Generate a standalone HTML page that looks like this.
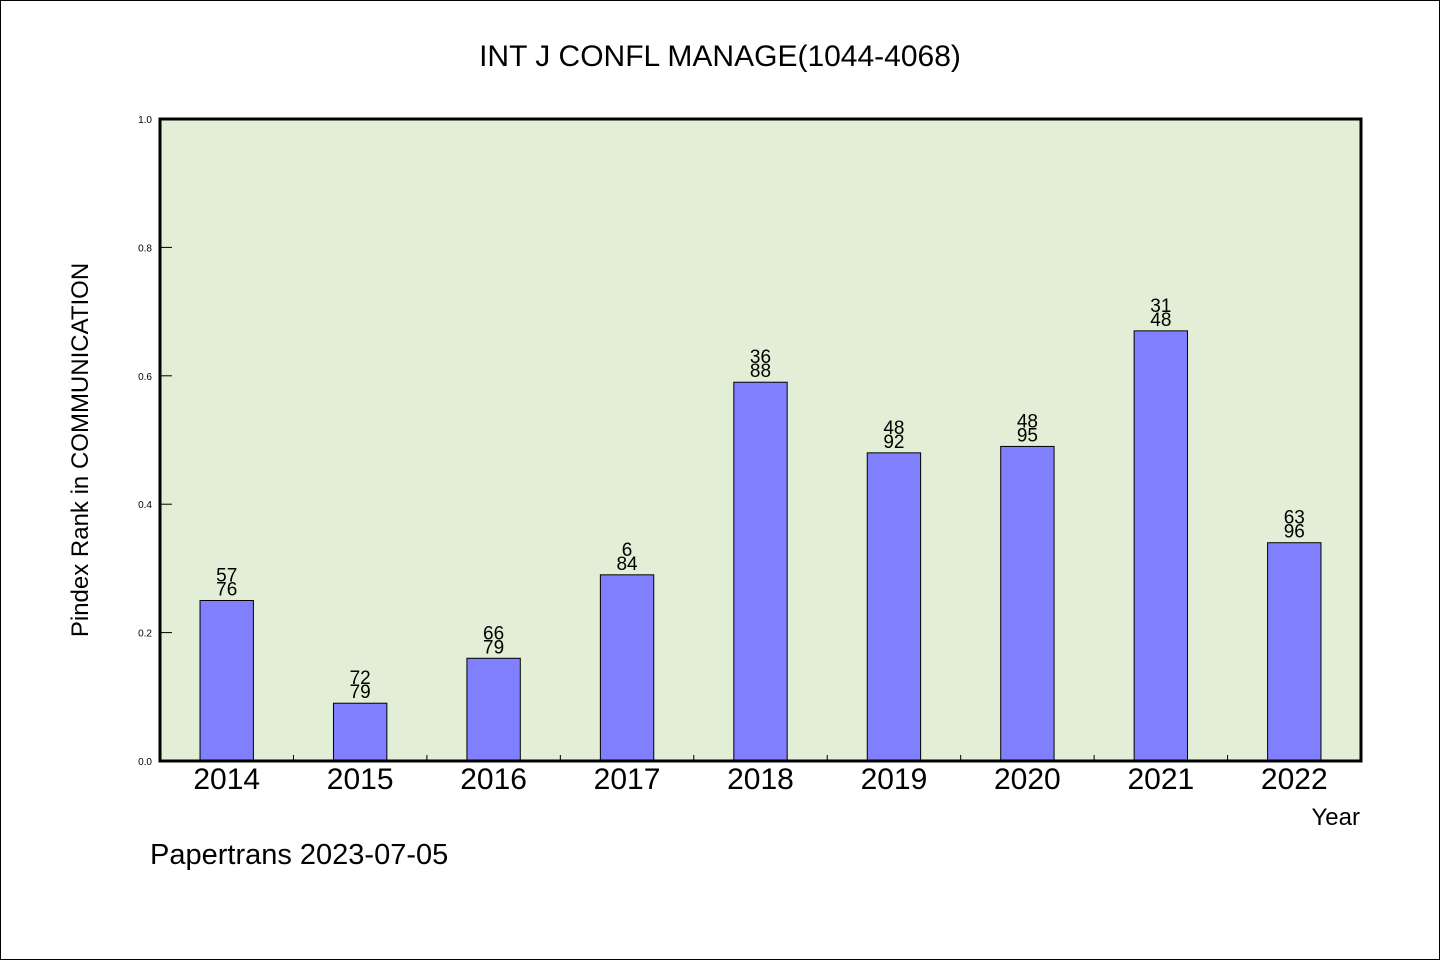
<!DOCTYPE html>
<html><head><meta charset="utf-8"><style>
body{margin:0;background:#fff}
svg text{font-family:"WenQuanYi Zen Hei","Liberation Sans",sans-serif;fill:#000}
</style></head><body>
<svg width="1440" height="960">
<rect x="0.5" y="0.5" width="1439" height="959" fill="#fff" stroke="#000"/>
<text x="720" y="66" font-size="30" text-anchor="middle">INT J CONFL MANAGE(1044-4068)</text>
<rect x="160" y="119" width="1201" height="642" fill="#e2efd6"/>
<g id="bars"></g>
<rect x="160" y="119" width="1201" height="642" fill="none" stroke="#000" stroke-width="3"/>
<g id="axes"></g>
<text transform="translate(88,450) rotate(-90)" font-size="24" text-anchor="middle">Pindex Rank in COMMUNICATION</text>
<text x="1360" y="825" font-size="24" text-anchor="end">Year</text>
<text x="150" y="864" font-size="29">Papertrans 2023-07-05</text>
</svg>
<script>
const categories=["2014","2015","2016","2017","2018","2019","2020","2021","2022"];
const values=[0.25,0.09,0.16,0.29,0.59,0.48,0.49,0.67,0.34];
const ranks=["57","72","66","6","36","48","48","31","63"];
const totals=["76","79","79","84","88","92","95","48","96"];
const yTicks=["0.0","0.2","0.4","0.6","0.8","1.0"];
const NS="http://www.w3.org/2000/svg";
const X0=160,X1=1361,Y0=761,Y1=119;
const step=(X1-X0)/categories.length;
const xc=i=>X0+step*(i+0.5);
const y=v=>Y0-(Y0-Y1)*v;
function mk(t,a,p){const e=document.createElementNS(NS,t);for(const k in a)e.setAttribute(k,a[k]);p.appendChild(e);return e;}
const bars=document.getElementById('bars'),axes=document.getElementById('axes');
categories.forEach((c,i)=>{
 const w=step*0.4;
 const r=mk('rect',{x:xc(i)-w/2,y:y(values[i]),width:w,height:Y0-y(values[i]),fill:'#8080ff',stroke:'#000','stroke-width':1},bars);
 
 
 const t1=mk('text',{x:xc(i),y:y(values[i])-19,'font-size':19,'text-anchor':'middle'},bars);t1.textContent=ranks[i];
 
 
 const t2=mk('text',{x:xc(i),y:y(values[i])-5,'font-size':19,'text-anchor':'middle'},bars);t2.textContent=totals[i];
 
 
 const xl=mk('text',{x:xc(i),y:789,'font-size':30,'text-anchor':'middle'},axes);xl.textContent=c;
 
 
 if(i>0){const tk=mk('line',{x1:X0+step*i,x2:X0+step*i,y1:Y0,y2:Y0-6,stroke:'#000'},axes);
 
 }
});
yTicks.forEach(s=>{
 const v=parseFloat(s);
 const l=mk('line',{x1:X0,x2:X0+12,y1:y(v),y2:y(v),stroke:'#000'},axes);
 
 
 const t=mk('text',{x:152,y:y(v)+4,'font-size':10,'text-anchor':'end'},axes);t.textContent=s;
 
 
});
</script>
</body></html>
